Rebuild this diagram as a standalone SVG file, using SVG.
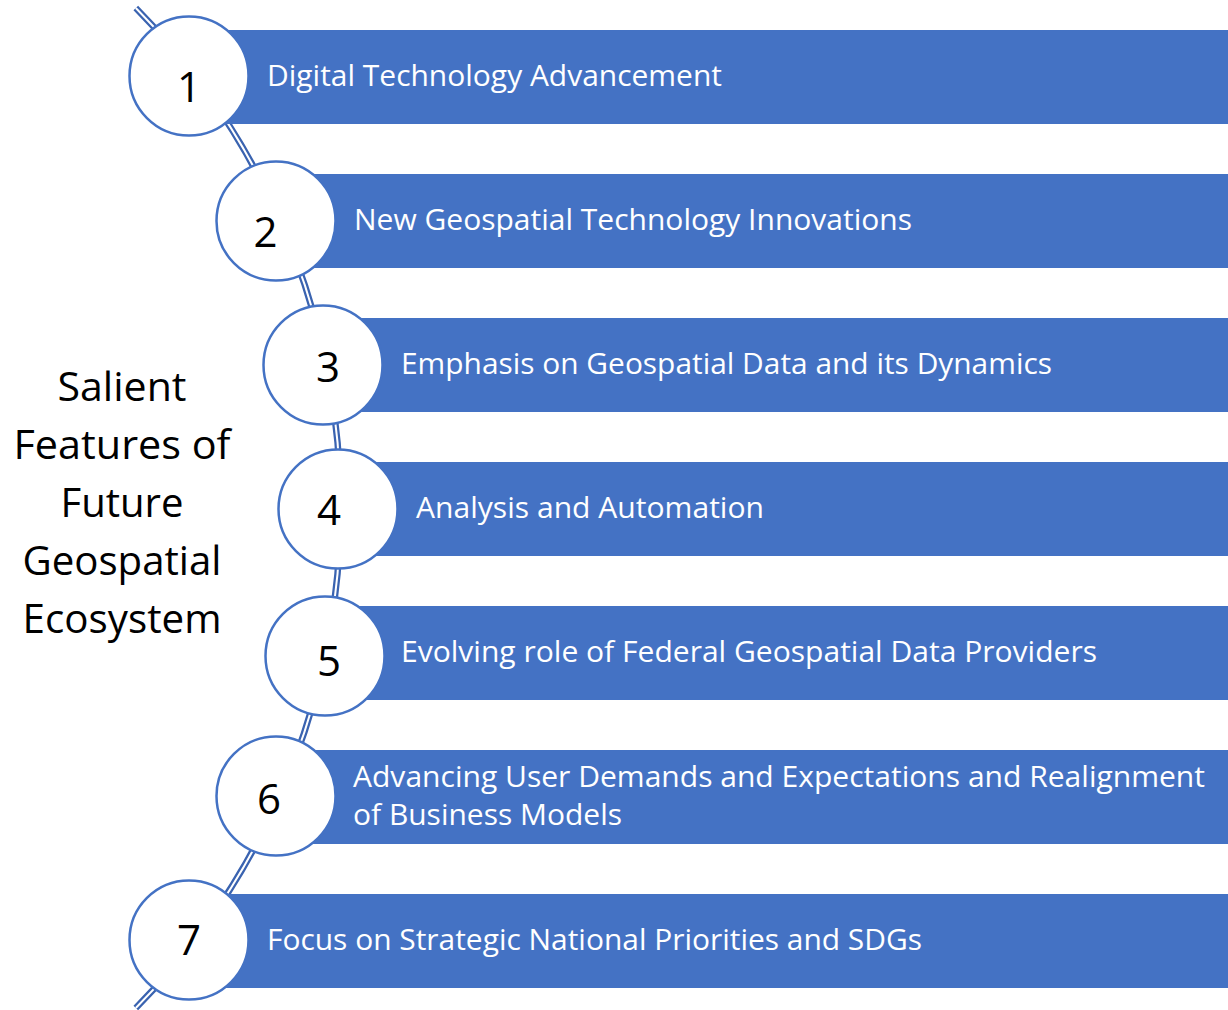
<svg xmlns="http://www.w3.org/2000/svg" width="1228" height="1010" viewBox="0 0 1228 1010">
<style>
.bar{fill:#4472C4}
.circ{fill:#ffffff;stroke:#4472C4;stroke-width:2.5}
.num{font-family:"Open Sans","Liberation Sans",sans-serif;font-size:42px;fill:#000000;text-anchor:middle}
.lbl{font-family:"Open Sans","Liberation Sans",sans-serif;font-size:29.5px;fill:#ffffff}
.title{font-family:"Open Sans","Liberation Sans",sans-serif;font-size:41px;fill:#000000;text-anchor:middle}
.arcO{fill:none;stroke:#3A63B0;stroke-width:6.5}
.arcI{fill:none;stroke:#ffffff;stroke-width:2}
</style>
<rect width="1228" height="1010" fill="#ffffff"/>
<g id="connectors">
<path class="arcO" d="M135.8,8 A713,713 0 0,1 135.8,1008"/>
<path class="arcI" d="M135.8,8 A713,713 0 0,1 135.8,1008"/>
</g>
<g id="title">
<text class="title" x="122" y="401" textLength="129" lengthAdjust="spacingAndGlyphs">Salient</text>
<text class="title" x="122" y="459" textLength="217" lengthAdjust="spacingAndGlyphs">Features of</text>
<text class="title" x="122" y="517" textLength="123" lengthAdjust="spacingAndGlyphs">Future</text>
<text class="title" x="122" y="575" textLength="199" lengthAdjust="spacingAndGlyphs">Geospatial</text>
<text class="title" x="122" y="633" textLength="199" lengthAdjust="spacingAndGlyphs">Ecosystem</text>
</g>
<g id="node1">
<rect class="bar" x="189" y="30" width="1039" height="94"/>
<circle class="circ" cx="189" cy="76" r="59.5"/>
<text class="num" x="189" y="102">1</text>
<text class="lbl" x="267" y="86" textLength="455" lengthAdjust="spacingAndGlyphs">Digital Technology Advancement</text>
</g>
<g id="node2">
<rect class="bar" x="276" y="174" width="952" height="94"/>
<circle class="circ" cx="276" cy="221" r="59.5"/>
<text class="num" x="265.5" y="247">2</text>
<text class="lbl" x="354" y="230" textLength="558" lengthAdjust="spacingAndGlyphs">New Geospatial Technology Innovations</text>
</g>
<g id="node3">
<rect class="bar" x="323" y="318" width="905" height="94"/>
<circle class="circ" cx="323" cy="365" r="59.5"/>
<text class="num" x="328" y="382">3</text>
<text class="lbl" x="401" y="374" textLength="651" lengthAdjust="spacingAndGlyphs">Emphasis on Geospatial Data and its Dynamics</text>
</g>
<g id="node4">
<rect class="bar" x="338" y="462" width="890" height="94"/>
<circle class="circ" cx="338" cy="509" r="59.5"/>
<text class="num" x="329" y="525">4</text>
<text class="lbl" x="416" y="518" textLength="348" lengthAdjust="spacingAndGlyphs">Analysis and Automation</text>
</g>
<g id="node5">
<rect class="bar" x="325" y="606" width="903" height="94"/>
<circle class="circ" cx="325" cy="656" r="59.5"/>
<text class="num" x="329" y="676">5</text>
<text class="lbl" x="401" y="662" textLength="696" lengthAdjust="spacingAndGlyphs">Evolving role of Federal Geospatial Data Providers</text>
</g>
<g id="node6">
<rect class="bar" x="276" y="750" width="952" height="94"/>
<circle class="circ" cx="276" cy="796" r="59.5"/>
<text class="num" x="269" y="814">6</text>
<text class="lbl" x="353" y="787" textLength="852" lengthAdjust="spacingAndGlyphs">Advancing User Demands and Expectations and Realignment</text>
<text class="lbl" x="353" y="825" textLength="269" lengthAdjust="spacingAndGlyphs">of Business Models</text>
</g>
<g id="node7">
<rect class="bar" x="189" y="894" width="1039" height="94"/>
<circle class="circ" cx="189" cy="940" r="59.5"/>
<text class="num" x="189" y="955">7</text>
<text class="lbl" x="267" y="950" textLength="655" lengthAdjust="spacingAndGlyphs">Focus on Strategic National Priorities and SDGs</text>
</g>
</svg>
